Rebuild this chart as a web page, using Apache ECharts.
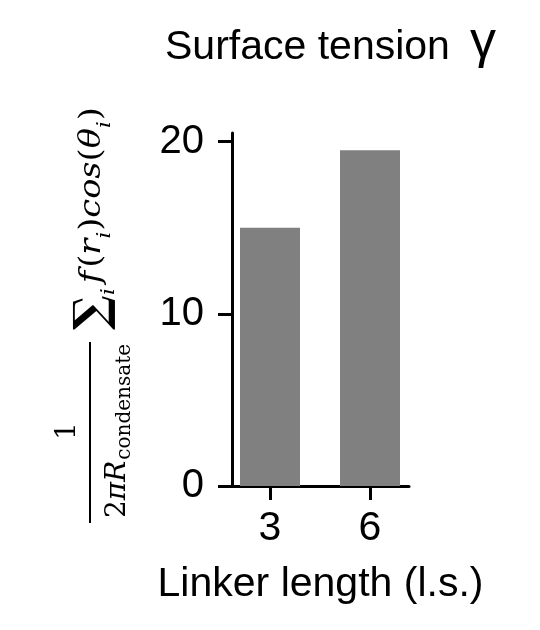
<!DOCTYPE html>
<html>
<head>
<meta charset="utf-8">
<script src="https://cdn.jsdelivr.net/npm/echarts@6.0.0/dist/echarts.min.js"></script>
<style>
    html, body { margin: 0; padding: 0; background: #fff; }
    #main { width: 540px; height: 630px; }
</style>
</head>
<body>
<div id="main"></div>
<script>
var linkerLengths = [3, 6];
var tensionValues = [15.0, 19.5];
var yTickValues = [0, 10, 20];
var titleText = 'Surface tension';
var gammaText = 'γ';
var xAxisName = 'Linker length (l.s.)';

var measureCtx = document.createElement('canvas').getContext('2d');
function textWidth(str, size, italic, bold) {
    measureCtx.font = (italic ? 'italic ' : '') + (bold ? 'bold ' : '') + size + 'px "DejaVu Serif"';
    return measureCtx.measureText(str).width;
}

// one piece of the formula: text, size, italic, u along the text, b baseline
function mathText(t, s, i, u, b, align, sx, bold) {
    return {
        type: 'text', x: u, y: b - 0.32 * s, scaleX: sx || 1,
        style: {
            text: t, fontSize: s, fontStyle: i ? 'italic' : 'normal',
            fontWeight: bold ? 'bold' : 'normal',
            fontFamily: 'DejaVu Serif', fill: '#000',
            align: align || 'left', verticalAlign: 'middle'
        }
    };
}
function run(pieces, u, sx) {
    var out = [];
    pieces.forEach(function (p) {
        u += p.g || 0;
        out.push(mathText(p.t, p.s, p.i, u, p.b, 'left', sx, p.w));
        u += textWidth(p.t, p.s, p.i, p.w) * sx;
    });
    return out;
}

// y axis name, written in a rotated group: local x runs bottom -> top
var formula = [
    mathText('1', 28, false, 92, 77, 'center'),
    {type: 'line', shape: {x1: 0, y1: 90, x2: 181, y2: 90}, style: {stroke: '#000', lineWidth: 2}}
].concat(run([
    {t: '2', s: 28, b: 127},
    {t: 'π', s: 28, i: 1, b: 127},
    {t: 'R', s: 28, i: 1, b: 127},
    {t: 'condensate', s: 20, b: 131, g: 1}
], 5, 1)).concat(run([
    {t: '∑', s: 46, b: 109, w: 1}
], 193, 1)).concat(run([
    {t: 'i', s: 19, i: 1, b: 115},
    {t: 'f', s: 30, i: 1, b: 102, g: 5},
    {t: '(', s: 30, b: 102, g: 3},
    {t: 'r', s: 30, i: 1, b: 102},
    {t: 'i', s: 19, i: 1, b: 111},
    {t: ')', s: 30, b: 102, g: 1},
    {t: 'cos', s: 30, i: 1, b: 102},
    {t: '(', s: 30, b: 102},
    {t: 'θ', s: 30, i: 1, b: 102},
    {t: 'i', s: 19, i: 1, b: 111},
    {t: ')', s: 30, b: 102, g: 1}
], 228, 1.12));

var chart = echarts.init(document.getElementById('main'));
var option = {
    animation: false,
    title: [
        {
            text: titleText, left: 165, top: 27, padding: 0,
            textStyle: {fontFamily: 'Liberation Sans', fontSize: 41, fontWeight: 'normal', color: '#000'}
        },
        {
            text: gammaText, left: 470, top: 17, padding: 0,
            textStyle: {fontFamily: 'Liberation Sans', fontSize: 52, fontWeight: 'normal', color: '#000'}
        }
    ],
    grid: {left: 232, right: 131, top: 133, bottom: 144},
    xAxis: {
        type: 'value', min: 1.86, max: 7.17,
        name: xAxisName, nameLocation: 'middle', nameGap: 78,
        nameTextStyle: {fontFamily: 'Liberation Sans', fontSize: 41, color: '#000'},
        axisLine: {show: true, onZero: false, lineStyle: {color: '#000', width: 3}},
        axisTick: {show: true, customValues: linkerLengths, length: 14, lineStyle: {color: '#000', width: 3}},
        axisLabel: {customValues: linkerLengths, fontFamily: 'Liberation Sans', fontSize: 41, color: '#000', margin: 22},
        splitLine: {show: false}
    },
    yAxis: {
        type: 'value', min: 0, max: 20.5,
        axisLine: {show: true, lineStyle: {color: '#000', width: 3}},
        axisTick: {show: true, customValues: yTickValues, length: 14, lineStyle: {color: '#000', width: 3}},
        axisLabel: {customValues: yTickValues, fontFamily: 'Liberation Sans', fontSize: 40, color: '#000', margin: 28},
        splitLine: {show: false}
    },
    series: [{
        type: 'bar',
        data: linkerLengths.map(function (x, i) { return [x, tensionValues[i]]; }),
        barWidth: 60,
        itemStyle: {color: '#808080'}
    }],
    graphic: [{
        type: 'group', x: 0, y: 523, rotation: Math.PI / 2,
        children: formula
    }]
};
chart.setOption(option);
</script>
</body>
</html>
